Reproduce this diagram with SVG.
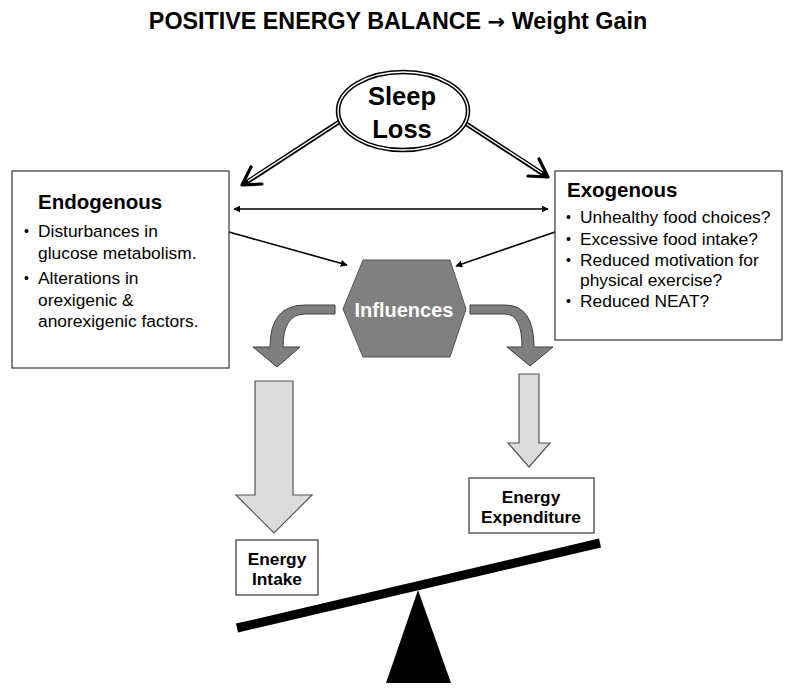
<svg xmlns="http://www.w3.org/2000/svg" width="800" height="693" viewBox="0 0 800 693">
<style>
text{font-family:"Liberation Sans",Arial,sans-serif;fill:#000}
.b{font-weight:bold}
.box{fill:#fff;stroke:#444;stroke-width:1.3}
.body{font-size:17.4px}
.blt{font-size:14px}
.lbl{font-size:17.3px;font-weight:bold}
.thin{stroke:#000;stroke-width:1.6;fill:none}
.dblo{stroke:#000;stroke-width:4.5;fill:none}
.dbli{stroke:#fff;stroke-width:1.4;fill:none}
.chev{stroke:#000;stroke-width:3.2;fill:none;stroke-linecap:round;stroke-linejoin:round}
.dark{fill:#7f7f7f;stroke:#404040;stroke-width:1}
.light{fill:#dcdcdc;stroke:#555;stroke-width:1.2}
</style>
<defs>
<marker id="ah" viewBox="0 0 10 10" refX="9" refY="5" markerWidth="7" markerHeight="7" markerUnits="userSpaceOnUse" orient="auto-start-reverse">
<path d="M0,0 L10,5 L0,10 Z" fill="#000"/>
</marker>
</defs>
<rect width="800" height="693" fill="#fff"/>
<text x="398" y="29" text-anchor="middle" class="b" font-size="23.3">POSITIVE ENERGY BALANCE <tspan font-family="DejaVu Sans" font-size="21">→</tspan> Weight Gain</text>

<g id="connectors">
<line class="dblo" x1="342" y1="120" x2="244" y2="184"/>
<line class="dbli" x1="342" y1="120" x2="248" y2="181"/>
<polyline class="chev" points="262,184 242,185 251,167"/>
<line class="dblo" x1="465" y1="123" x2="546" y2="176"/>
<line class="dbli" x1="465" y1="123" x2="542" y2="173"/>
<polyline class="chev" points="528,176 548,177 539,159"/>
<line class="thin" x1="234" y1="209" x2="548" y2="209" marker-start="url(#ah)" marker-end="url(#ah)"/>
<line class="thin" x1="229" y1="232" x2="347" y2="265" marker-end="url(#ah)"/>
<line class="thin" x1="555" y1="232" x2="456" y2="266" marker-end="url(#ah)"/>
<path class="dark" d="M335,305 H305 Q270,305 270,347 H253 L277,367 L300,347 H283 Q283,314 305,314 H335 Z"/>
<path class="dark" d="M470,305 H505 Q534,305 534,347 H553 L530,366 L507,347 H522 Q522,314 505,314 H470 Z"/>
<path class="light" d="M255,381 H293 V495 H312 L274,533 L236,495 H255 Z"/>
<path class="light" d="M519,374 H539 V443 H550 L529,467 L508,443 H519 Z"/>
</g>

<g id="sleep-loss">
<ellipse cx="403" cy="111" rx="65" ry="39" fill="#fff" stroke="#000" stroke-width="4.5"/>
<ellipse cx="403" cy="111" rx="65" ry="39" fill="none" stroke="#fff" stroke-width="1.4"/>
<text x="402" y="105" text-anchor="middle" class="b" font-size="25.5">Sleep</text>
<text x="402" y="138" text-anchor="middle" class="b" font-size="25.5">Loss</text>
</g>

<g id="endogenous">
<rect class="box" x="12" y="171" width="217" height="197"/>
<text x="38" y="209" class="b" font-size="20.5">Endogenous</text>
<text class="blt" x="24" y="236">•</text>
<text class="body" x="38" y="237">Disturbances in</text>
<text class="body" x="38" y="259">glucose metabolism.</text>
<text class="blt" x="24" y="283">•</text>
<text class="body" x="38" y="284">Alterations in</text>
<text class="body" x="38" y="306">orexigenic &amp;</text>
<text class="body" x="38" y="327">anorexigenic factors.</text>
</g>

<g id="exogenous">
<rect class="box" x="555" y="171" width="227" height="169"/>
<text x="567" y="197" class="b" font-size="20.5">Exogenous</text>
<text class="blt" x="566" y="222">•</text>
<text class="body" x="580" y="223">Unhealthy food choices?</text>
<text class="blt" x="566" y="244">•</text>
<text class="body" x="580" y="245">Excessive food intake?</text>
<text class="blt" x="566" y="265">•</text>
<text class="body" x="580" y="266">Reduced motivation for</text>
<text class="body" x="580" y="286">physical exercise?</text>
<text class="blt" x="566" y="306">•</text>
<text class="body" x="580" y="307">Reduced NEAT?</text>
</g>

<g id="influences">
<polygon points="363,260 450,260 466,309 450,357 363,357 343,309" fill="#808080" stroke="#555" stroke-width="1"/>
<text x="404" y="317" text-anchor="middle" class="b" font-size="20" style="fill:#fff">Influences</text>
</g>

<g id="energy-intake">
<rect class="box" x="236" y="540" width="82" height="55"/>
<text x="277" y="565" text-anchor="middle" class="lbl">Energy</text>
<text x="277" y="585" text-anchor="middle" class="lbl">Intake</text>
</g>

<g id="energy-expenditure">
<rect class="box" x="469" y="478" width="125" height="55"/>
<text x="531" y="503" text-anchor="middle" class="lbl">Energy</text>
<text x="531" y="523" text-anchor="middle" class="lbl">Expenditure</text>
</g>

<g id="seesaw">
<line x1="237" y1="628" x2="600" y2="543" stroke="#000" stroke-width="9"/>
<polygon points="418,590 386,683 451,683" fill="#000"/>
</g>
</svg>
